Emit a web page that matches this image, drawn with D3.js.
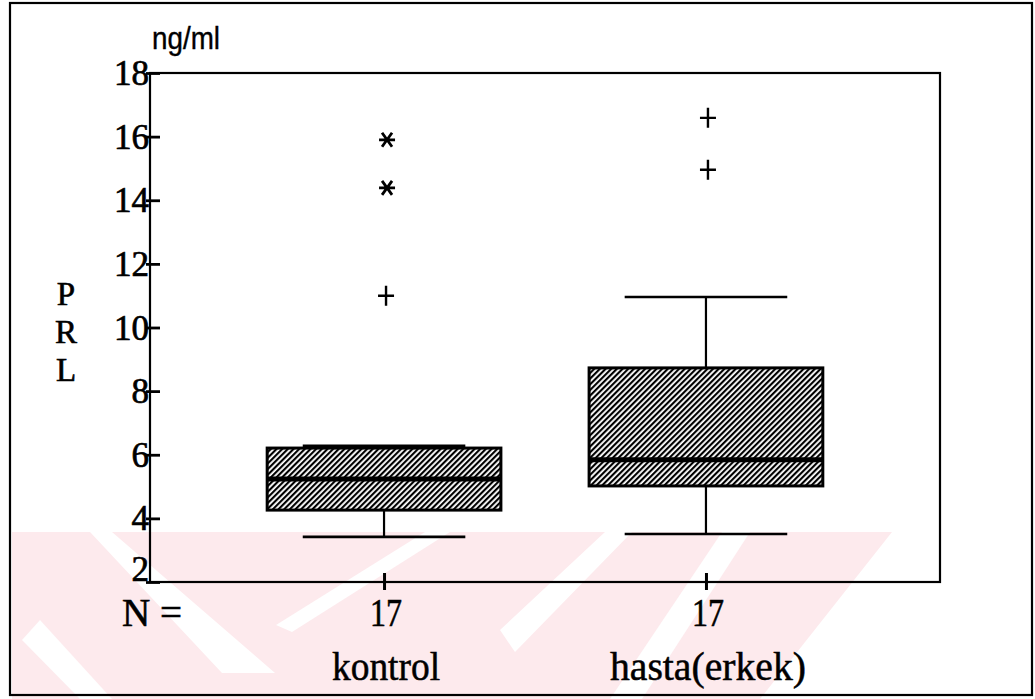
<!DOCTYPE html>
<html>
<head>
<meta charset="utf-8">
<script src="https://cdn.jsdelivr.net/npm/d3@7"></script>
<style>
  html, body { margin: 0; padding: 0; background: #fff; }
  svg { display: block; }
</style>
</head>
<body>
<svg id="chart" width="1035" height="699"></svg>
<script>
// ---- data ----
const categories   = ["kontrol", "hasta(erkek)"];
const counts       = [17, 17];
const whiskerLow   = [3.42, 3.51];
const q1           = [4.26, 5.02];
const median       = [5.24, 5.84];
const q3           = [6.21, 8.73];
const whiskerHigh  = [6.28, 10.96];
const outliers     = [[11.0], [16.59, 14.96]];   // "+" markers
const extremes     = [[15.9, 14.39], []];        // "*" markers
const yTicks       = [2, 4, 6, 8, 10, 12, 14, 16, 18];
const yUnit        = "ng/ml";
const yTitle       = ["P", "R", "L"];
const nLabel       = "N =";

// ---- layout ----
const W = 1035, H = 699;
const plot = { left: 150, right: 940, top: 73, bottom: 582 };
const svg = d3.select("#chart");
const serif = "'Liberation Serif', 'Times New Roman', serif";
const sans = "'Liberation Sans', Arial, sans-serif";

// background + faint watermark (decorative)
svg.append("rect").attr("width", W).attr("height", H).attr("fill", "#fff");
const wm = svg.append("g").attr("fill", "#fdeaed");
wm.append("path").attr("d", "M12,532 L892,532 L760,699 L12,699 Z");
const gap = svg.append("g").attr("fill", "#fff");
gap.append("path").attr("d", "M90,532 L112,532 L275,673 L222,673 Z");
gap.append("path").attr("d", "M425,532 L450,532 L292,632 L276,625 Z");
gap.append("path").attr("d", "M605,532 L632,532 L515,652 L500,630 Z");
gap.append("path").attr("d", "M722,532 L750,532 L642,699 L610,699 Z");
gap.append("path").attr("d", "M22,640 L40,620 L112,699 L80,699 Z");

// hatch pattern
const defs = svg.append("defs");
const pat = defs.append("pattern")
  .attr("id", "hatch").attr("patternUnits", "userSpaceOnUse")
  .attr("width", 4).attr("height", 4)
  .attr("patternTransform", "rotate(45)");
pat.append("rect").attr("width", 4).attr("height", 4).attr("fill", "#fff");
pat.append("line").attr("x1", 1).attr("y1", 0).attr("x2", 1).attr("y2", 4)
  .attr("stroke", "#000").attr("stroke-width", 2.3);

// outer frame
svg.append("rect").attr("x", 10).attr("y", 3).attr("width", 1022).attr("height", 692)
  .attr("fill", "none").attr("stroke", "#000").attr("stroke-width", 2.2);

// scales
const y = d3.scaleLinear().domain([2, 18]).range([plot.bottom, plot.top]);
const x = d3.scalePoint().domain(categories).range([plot.left, plot.right]).padding(0.727);
const step = x.step();
const boxW = step * 0.726;
const capW = step * 0.505;

// plot frame
svg.append("rect").attr("x", plot.left).attr("y", plot.top)
  .attr("width", plot.right - plot.left).attr("height", plot.bottom - plot.top)
  .attr("fill", "none").attr("stroke", "#000").attr("stroke-width", 2.2);

// y axis ticks
const yAxis = d3.axisLeft(y).tickValues(yTicks).tickSize(0).tickPadding(0);
const gy = svg.append("g").attr("transform", `translate(${plot.left},0)`).call(yAxis);
gy.select(".domain").remove();
gy.selectAll(".tick line").remove();
gy.selectAll(".tick").append("line")
  .attr("x1", -4).attr("x2", 10).attr("stroke", "#000").attr("stroke-width", 2.8);
gy.selectAll(".tick text")
  .attr("x", -1).attr("dy", (d) => d === 2 ? "-0.05em" : "0.33em")
  .attr("font-family", serif).attr("font-size", 35).attr("fill", "#000")
  .attr("stroke", "#000").attr("stroke-width", 0.7)
  .attr("text-anchor", "end");

// x axis ticks
const xAxis = d3.axisBottom(x).tickSize(0).tickFormat("");
const gx = svg.append("g").attr("transform", `translate(0,${plot.bottom})`).call(xAxis);
gx.select(".domain").remove();
gx.selectAll(".tick line").remove();
gx.selectAll(".tick").append("line")
  .attr("y1", -9).attr("y2", 8).attr("stroke", "#000").attr("stroke-width", 3);

// N labels
svg.append("text").attr("x", 122).attr("y", 626).text(nLabel)
  .attr("font-family", serif).attr("font-size", 40).attr("fill", "#000")
  .attr("stroke", "#000").attr("stroke-width", 0.6)
  .attr("textLength", 60).attr("lengthAdjust", "spacingAndGlyphs");
svg.selectAll("text.nval").data(categories).join("text").attr("class", "nval")
  .attr("x", (d) => x(d) + 2).attr("y", 626).attr("text-anchor", "middle")
  .attr("font-family", serif).attr("font-size", 40).attr("fill", "#000")
  .attr("stroke", "#000").attr("stroke-width", 0.6)
  .attr("textLength", 32).attr("lengthAdjust", "spacingAndGlyphs")
  .text((d, i) => counts[i]);
svg.selectAll("text.cat").data(categories).join("text").attr("class", "cat")
  .attr("x", (d) => x(d) + 2).attr("y", 680).attr("text-anchor", "middle")
  .attr("font-family", serif).attr("font-size", 39).attr("fill", "#000")
  .attr("stroke", "#000").attr("stroke-width", 0.5)
  .attr("textLength", (d, i) => i === 0 ? 108 : 196).attr("lengthAdjust", "spacingAndGlyphs")
  .text((d) => d);

// unit label & title
svg.append("text").attr("x", 152).attr("y", 49).text(yUnit)
  .attr("font-family", sans).attr("font-size", 31).attr("fill", "#000")
  .attr("stroke", "#000").attr("stroke-width", 0.4)
  .attr("textLength", 68).attr("lengthAdjust", "spacingAndGlyphs");
svg.selectAll("text.ytitle").data(yTitle).join("text").attr("class", "ytitle")
  .attr("x", 66).attr("y", (d, i) => 305 + i * 38).attr("text-anchor", "middle")
  .attr("font-family", serif).attr("font-size", 33).attr("fill", "#000")
  .attr("stroke", "#000").attr("stroke-width", 0.6)
  .text((d) => d);

// boxes
const gb = svg.append("g");
categories.forEach((c, i) => {
  const cx = x(c);
  gb.append("line").attr("x1", cx).attr("x2", cx).attr("y1", y(q3[i])).attr("y2", y(whiskerHigh[i]))
    .attr("stroke", "#000").attr("stroke-width", 2.2);
  gb.append("line").attr("x1", cx).attr("x2", cx).attr("y1", y(q1[i])).attr("y2", y(whiskerLow[i]))
    .attr("stroke", "#000").attr("stroke-width", 2.2);
  gb.append("rect").attr("x", cx - boxW / 2).attr("width", boxW)
    .attr("y", y(q3[i])).attr("height", y(q1[i]) - y(q3[i]))
    .attr("fill", "url(#hatch)").attr("stroke", "#000").attr("stroke-width", 3);
  gb.append("line").attr("x1", cx - capW / 2).attr("x2", cx + capW / 2)
    .attr("y1", y(whiskerHigh[i])).attr("y2", y(whiskerHigh[i]))
    .attr("stroke", "#000").attr("stroke-width", 2.6);
  gb.append("line").attr("x1", cx - capW / 2).attr("x2", cx + capW / 2)
    .attr("y1", y(whiskerLow[i])).attr("y2", y(whiskerLow[i]))
    .attr("stroke", "#000").attr("stroke-width", 2.6);
  gb.append("line").attr("x1", cx - boxW / 2 - 1).attr("x2", cx + boxW / 2 + 1)
    .attr("y1", y(median[i])).attr("y2", y(median[i]))
    .attr("stroke", "#000").attr("stroke-width", 5);
  outliers[i].forEach((v) => {
    const py = y(v), px = cx + 2;
    gb.append("path").attr("d", `M${px - 8},${py} L${px + 8},${py} M${px},${py - 10} L${px},${py + 10}`)
      .attr("stroke", "#000").attr("stroke-width", 2.4).attr("fill", "none");
  });
  extremes[i].forEach((v) => {
    const py = y(v), px = cx + 3;
    gb.append("path").attr("d",
      `M${px - 8},${py} L${px + 8},${py} M${px - 5},${py - 7} L${px + 5},${py + 7} M${px + 5},${py - 7} L${px - 5},${py + 7}`)
      .attr("stroke", "#000").attr("stroke-width", 2.8).attr("fill", "none");
  });
});
</script>
</body>
</html>
